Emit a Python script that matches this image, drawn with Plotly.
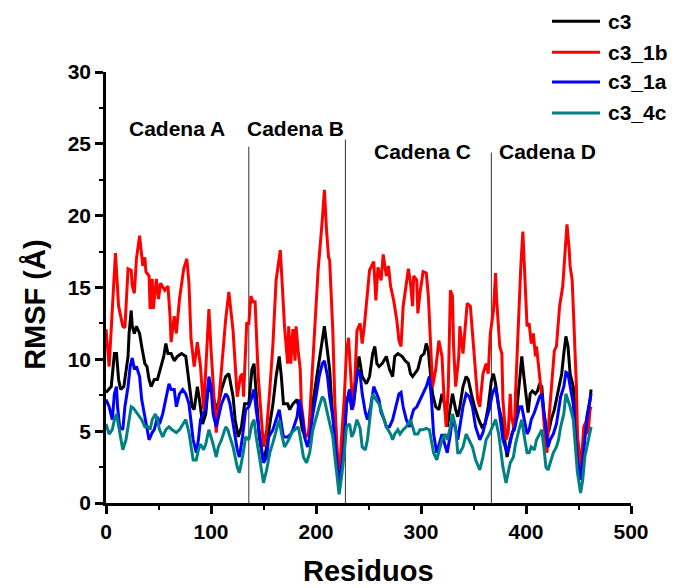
import plotly.graph_objects as go

# ---------------- data ----------------
c3_x = [0,5,8,10,12,14,17,21,22,24,25,27,29,32,34,37,39,41,43,46,49,52,55,57,59,62,65,68,72,76,78,79,82,84,87,89,92,95,97,98,102,105,108,110,114,117,121,123,126,129,132,136,139,141,143,146,150,153,156,159,162,165,167,169,173,175,178,182,184,187,190,193,196,199,202,206,208,210,213,215,218,220,222,224,227,229,232,234,236,239,241,244,248,251,254,256,258,260,263,267,270,273,275,278,282,285,288,290,292,294,297,300,303,305,307,309,311,314,317,320,323,325,328,330,333,335,337,340,343,345,348,351,355,358,361,364,367,369,371,374,377,380,382,385,388,391,393,395,396,398,401,402,404,406,409,411,413,415,417,420,422,424,427,429,432,434,436,438,440,442,445,447,449,452,454,456,458,461,462]
c3_y = [7.7,8.1,10.4,10.4,8.6,7.9,8.1,10.2,11.8,13.4,12.3,11.8,12.3,11.8,10.9,9.7,9.5,8.6,8.1,8.6,8.6,9.5,10.2,11.1,10.4,10.4,9.9,10.2,10.4,10.2,9.0,8.1,6.7,6.5,8.1,7.2,5.5,6.2,7.9,8.1,7.4,6.5,7.2,7.9,8.8,9.0,7.4,5.8,4.6,5.3,6.9,6.9,9.3,9.7,7.9,4.6,2.8,3.9,5.5,6.9,8.8,10.2,8.8,6.9,6.9,6.5,6.9,7.2,6.5,5.1,4.6,4.8,6.5,7.9,9.3,11.1,12.3,11.1,9.3,6.9,4.6,2.8,1.6,3.2,4.9,6.9,7.9,6.5,6.9,9.3,10.2,8.8,8.3,8.8,10.4,10.9,9.7,9.5,9.7,10.2,9.3,8.8,10.2,10.4,10.2,9.9,9.7,9.0,8.8,9.0,9.3,10.2,10.4,11.1,10.6,9.0,7.6,6.7,6.5,7.6,6.7,5.3,6.7,7.6,6.5,6.0,6.7,8.1,8.8,8.6,7.6,6.7,5.8,5.3,5.5,6.7,8.5,9.0,8.3,6.7,5.8,4.4,3.2,4.4,5.1,6.3,8.1,9.7,10.2,8.8,6.7,6.3,7.6,7.8,7.6,7.8,8.3,8.1,6.3,4.8,5.1,5.8,6.5,7.2,8.1,9.0,10.4,11.6,10.9,9.0,8.1,6.3,4.4,3.0,3.5,4.9,6.0,7.2,7.9]

c3_1b_x = [0,3,9,12,16,18,21,24,25,27,29,32,35,37,38,41,42,44,45,48,50,52,56,59,61,62,65,67,70,74,77,79,81,84,87,90,93,95,98,100,103,105,108,110,114,117,121,125,128,130,131,134,136,138,140,142,145,150,153,156,159,162,166,168,170,173,174,176,178,180,181,183,185,186,190,193,196,199,202,206,208,210,212,213,216,218,220,222,224,227,229,231,233,235,237,239,242,244,246,248,251,255,257,259,262,264,267,269,271,274,277,279,281,283,285,288,290,292,293,296,297,299,302,305,307,309,311,314,317,320,322,324,326,328,330,331,333,336,337,340,342,344,347,349,351,354,356,359,362,364,366,369,371,372,375,377,378,381,383,385,386,389,390,393,395,397,399,401,403,405,407,409,410,412,413,416,418,420,422,424,427,429,432,435,437,439,441,442,444,446,448,449,451,453,455,458,459,461,462]
c3_1b_y = [12.1,9.5,17.4,13.7,12.3,12.2,16.3,16.2,15.1,14.6,17.0,18.6,16.5,17.1,16.1,15.8,13.5,15.6,13.5,15.6,14.2,15.3,14.8,15.1,13.0,11.2,13.0,11.8,14.2,16.3,17.0,15.3,11.4,9.5,11.2,9.5,6.5,9.0,13.5,10.7,7.2,4.9,7.6,9.5,12.8,14.7,12.0,7.4,8.8,9.0,7.4,12.5,12.5,14.4,14.0,14.0,8.8,3.9,5.1,7.9,11.1,15.5,17.6,15.0,12.3,9.7,12.3,9.7,12.1,9.9,12.3,10.6,9.3,6.9,4.6,4.8,8.8,12.7,16.2,19.7,21.8,19.0,17.1,16.9,12.0,6.9,3.5,1.1,4.2,7.4,10.5,11.5,9.0,6.5,8.5,12.0,12.5,11.1,12.3,13.7,16.2,16.8,14.1,16.4,15.5,17.3,15.8,16.5,15.1,14.1,12.7,11.3,10.9,13.7,14.8,16.3,15.3,13.7,15.8,15.5,13.2,14.6,16.1,16.0,14.4,10.9,8.1,9.3,11.3,10.2,7.2,5.3,8.1,14.8,14.4,10.9,8.1,10.2,12.3,10.4,12.3,13.9,13.7,11.8,9.5,7.2,6.7,9.0,9.7,9.0,11.8,13.4,16.0,14.2,10.9,10.4,7.2,4.4,4.9,7.6,6.0,5.1,7.6,13.7,16.4,18.9,15.5,12.3,12.5,11.1,11.8,10.2,10.9,9.5,9.0,6.7,4.8,3.5,6.0,8.1,10.6,10.9,13.7,15.1,17.6,19.4,17.8,16.5,15.5,11.8,8.1,4.8,2.5,3.2,5.3,5.8,4.8,6.5,6.7]

c3_1a_x = [0,3,6,8,10,11,13,16,18,21,23,25,27,29,32,34,37,39,41,44,46,49,51,54,57,60,62,65,67,70,73,76,79,81,83,86,88,90,93,95,98,100,102,105,107,110,114,116,118,121,125,127,130,133,136,139,141,143,147,150,153,155,159,162,165,167,169,173,176,178,182,184,187,189,192,194,197,200,203,206,208,211,213,216,218,220,222,224,227,229,232,234,236,240,242,244,247,249,252,255,258,260,262,265,267,270,273,276,279,281,283,286,289,291,293,296,299,302,305,308,310,312,315,317,320,323,325,328,330,333,335,337,340,343,346,349,352,356,359,362,365,368,371,374,376,378,382,384,387,389,391,394,396,398,401,403,405,408,410,413,415,417,419,421,423,426,429,431,433,436,438,440,442,445,447,449,452,454,456,458,460,462]
c3_1a_y = [7.2,6.7,5.8,7.6,8.1,6.7,5.3,5.1,6.7,8.1,9.5,10.1,9.3,9.5,8.8,7.2,6.0,5.3,4.4,4.9,5.1,6.0,5.5,6.2,7.2,8.3,7.9,7.9,6.7,7.6,7.9,7.6,6.9,5.8,4.4,3.5,4.4,5.8,6.3,6.5,8.8,8.1,6.2,5.3,6.0,6.9,7.6,7.4,6.9,5.5,3.7,3.2,4.6,6.5,6.7,7.4,7.9,6.5,4.2,2.8,3.2,4.6,5.1,5.8,6.5,5.5,4.6,4.6,4.8,5.1,6.0,7.2,6.0,4.6,3.9,4.6,6.2,7.4,8.8,9.7,9.9,8.8,7.4,6.0,4.6,2.8,1.1,2.3,4.2,6.9,7.9,6.5,7.2,9.3,9.0,7.6,6.3,5.8,6.7,8.1,7.6,7.2,6.3,5.8,5.3,5.3,5.8,6.7,7.6,7.7,6.7,5.8,5.3,6.0,6.5,6.7,7.2,7.6,8.1,8.8,7.2,4.8,3.5,4.0,4.8,4.0,3.5,4.8,6.0,5.1,4.4,5.3,6.7,7.6,7.4,6.7,5.3,4.4,4.9,5.8,6.5,7.6,8.1,6.7,5.3,4.4,3.5,3.9,4.9,5.1,5.8,6.7,6.7,6.0,4.8,5.1,5.8,6.3,6.7,7.4,7.6,6.3,4.8,3.9,4.4,4.8,5.5,6.5,7.4,8.1,9.1,9.0,8.1,6.9,4.8,3.0,1.6,3.0,4.8,5.8,6.7,7.6]

c3_4c_x = [0,3,6,8,10,12,14,16,19,22,24,26,29,32,34,37,40,42,44,47,49,51,54,57,60,63,67,70,73,76,79,81,83,86,88,90,93,95,98,102,105,107,110,114,116,118,121,125,127,130,133,136,139,141,143,147,150,153,156,159,162,165,167,170,174,177,180,183,185,188,191,194,197,200,203,206,208,211,213,216,218,220,222,224,227,229,232,234,236,239,242,244,247,249,251,254,257,260,262,265,267,271,273,275,278,280,283,286,290,292,294,297,299,302,305,308,310,312,315,317,320,323,325,328,330,333,335,337,340,343,346,349,352,356,359,362,365,368,371,374,376,378,381,383,385,388,390,394,396,398,401,403,405,408,410,413,415,417,419,421,423,426,429,431,433,436,438,440,442,445,447,449,452,454,456,458,461,462]
c3_4c_y = [5.5,4.8,5.1,5.8,6.2,5.3,4.4,3.7,4.4,5.8,6.7,6.6,6.3,6.0,5.8,5.3,5.3,5.1,5.8,6.2,5.8,5.1,4.6,5.1,5.3,5.1,4.9,5.1,5.5,5.8,4.9,3.9,3.0,3.0,3.7,4.1,3.7,4.1,5.1,4.1,3.2,3.9,4.4,5.3,5.1,4.6,3.9,2.5,2.1,3.2,4.6,4.4,5.5,5.8,4.6,2.8,1.4,2.3,3.5,4.2,5.1,5.8,4.9,3.9,4.4,4.9,5.1,5.3,4.6,3.2,2.8,3.5,5.1,6.0,6.7,7.4,7.2,6.2,5.5,4.6,3.2,1.8,0.6,1.6,3.5,5.3,5.5,4.6,4.9,5.8,5.2,3.9,3.7,4.4,5.8,7.6,7.2,6.9,6.5,5.8,5.3,4.8,4.4,4.8,5.1,4.8,5.1,5.3,5.8,5.3,4.8,4.8,5.1,5.1,5.2,5.1,4.4,3.5,3.0,3.5,4.4,4.8,4.4,5.3,6.2,5.3,3.5,3.5,3.9,4.8,4.4,3.9,3.0,2.3,3.2,4.4,4.8,5.3,5.8,4.8,3.5,2.5,1.4,2.1,2.8,3.2,4.1,5.3,5.8,4.8,3.5,3.5,3.9,3.7,4.4,4.8,5.1,3.9,2.5,2.3,2.8,3.5,3.9,4.4,5.3,6.2,7.6,7.2,6.7,5.8,3.9,2.1,0.7,1.6,3.2,3.9,4.8,5.3]

series_names = ["c3", "c3_1b", "c3_1a", "c3_4c"]
series_colors = ["#000000", "#FF0000", "#0000FF", "#008080"]

chain_labels = ["Cadena A", "Cadena B", "Cadena C", "Cadena D"]
chain_label_x = [67.5, 180, 301, 420]
chain_label_y = [26.1, 26.1, 24.5, 24.5]
chain_bounds = [136, 228, 367]
chain_bound_tops = [24.8, 25.3, 24.4]

x_ticks = [0, 100, 200, 300, 400, 500]
y_ticks = [0, 5, 10, 15, 20, 25, 30]

xs_all = [c3_x, c3_1b_x, c3_1a_x, c3_4c_x]
ys_all = [c3_y, c3_1b_y, c3_1a_y, c3_4c_y]
for a, b in zip(xs_all, ys_all):
    assert len(a) == len(b), (len(a), len(b))

# ---------------- figure ----------------
FONT = "Liberation Sans, Arial, sans-serif"
fig = go.Figure()
for name, xs, ys, col in zip(series_names, xs_all, ys_all, series_colors):
    fig.add_trace(go.Scatter(x=xs, y=ys, mode="lines", name=name,
                             line=dict(color=col, width=3), showlegend=False))

shapes = []
for bx, top in zip(chain_bounds, chain_bound_tops):
    shapes.append(dict(type="line", xref="x", yref="y", x0=bx, x1=bx, y0=0, y1=top,
                       line=dict(color="#333333", width=1), layer="below"))

# manual legend (line sample + label), positioned in paper coords
leg_y = [1.118, 1.046, 0.977, 0.905]
annotations = []
for name, col, ly in zip(series_names, series_colors, leg_y):
    shapes.append(dict(type="line", xref="paper", yref="paper", x0=0.8495, x1=0.941,
                       y0=ly, y1=ly, line=dict(color=col, width=3)))
    annotations.append(dict(xref="paper", yref="paper", x=0.952, y=ly, text=name,
                            showarrow=False, xanchor="left", yanchor="middle",
                            font=dict(family=FONT, size=21, color="black", weight="bold")))

for lab, lx, ly in zip(chain_labels, chain_label_x, chain_label_y):
    annotations.append(dict(xref="x", yref="y", x=lx, y=ly, text=lab, showarrow=False,
                            xanchor="center", yanchor="middle",
                            font=dict(family=FONT, size=21, color="black", weight="bold")))

annotations.append(dict(xref="paper", yref="paper", x=0.5, y=-0.158, text="Residuos",
                        showarrow=False, xanchor="center", yanchor="middle",
                        font=dict(family=FONT, size=29, color="black", weight="bold")))
annotations.append(dict(xref="paper", yref="paper", x=-0.135, y=0.46, text="RMSF (Å)",
                        showarrow=False, xanchor="center", yanchor="middle", textangle=-90,
                        font=dict(family=FONT, size=29, color="black", weight="bold")))

axis_common = dict(showgrid=False, zeroline=False, showline=True, linecolor="black",
                   linewidth=2.5, ticks="outside", ticklen=8, tickwidth=2.5,
                   tickcolor="black",
                   tickfont=dict(family=FONT, size=21, color="black", weight="bold"))

# The page body adds an 8 px offset, so the figure is 8 px smaller than the window.
fig.update_layout(
    width=667, height=580,
    margin=dict(l=98, r=44, t=64, b=85),
    paper_bgcolor="white", plot_bgcolor="white",
    showlegend=False,
    shapes=shapes, annotations=annotations,
    xaxis=dict(range=[0, 500], tickvals=x_ticks,
               minor=dict(dtick=50, ticks="outside", ticklen=4, tickwidth=2, tickcolor="black"),
               **axis_common),
    yaxis=dict(range=[0, 30], tickvals=y_ticks,
               minor=dict(dtick=2.5, ticks="outside", ticklen=4, tickwidth=2, tickcolor="black"),
               **axis_common),
)

fig.write_html("out.html")
